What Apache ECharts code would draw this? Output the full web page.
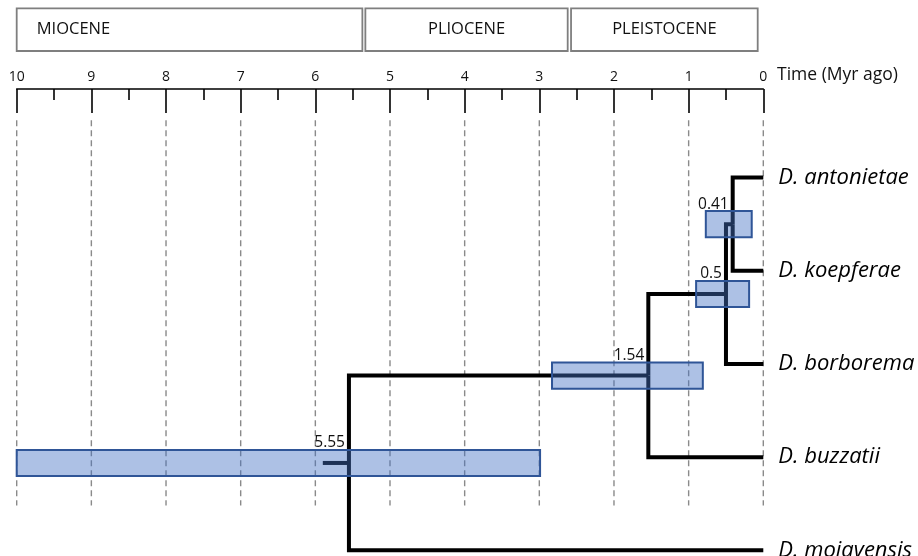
<!DOCTYPE html>
<html>
<head>
<meta charset="utf-8">
<script src="https://cdn.jsdelivr.net/npm/echarts@6/dist/echarts.min.js"></script>
<style>
html,body{margin:0;padding:0;background:#fff;}
#chart{width:918px;height:556px;}
</style>
</head>
<body>
<div id="chart"></div>
<script>
// ---------- data ----------
const xTicks = [10, 9, 8, 7, 6, 5, 4, 3, 2, 1, 0];
const epochNames = ['MIOCENE', 'PLIOCENE', 'PLEISTOCENE'];
const epochStart = [10, 5.33, 2.575];
const epochEnd = [5.37, 2.62, 0.075];
const taxa = ['D. antonietae', 'D. koepferae', 'D. borborema', 'D. buzzatii', 'D. mojavensis'];
const nodeLabels = ['0.41', '0.5', '1.54', '5.55'];
const nodeAges = [0.41, 0.5, 1.54, 5.55];
const hpdOld = [0.77, 0.90, 2.83, 10.0];
const hpdYoung = [0.155, 0.19, 0.81, 2.99];
const nodeChildren = [['L0', 'L1'], ['N0', 'L2'], ['N1', 'L3'], ['N2', 'L4']];
const rootStemAge = 5.90;
const axisTitle = 'Time (Myr ago)';

// ---------- layout / style constants ----------
const FONT = '"Open Sans", Lato, sans-serif';
const Y_MIN = -0.95, Y_MAX = 4.05;
const GRID_TOP_Y = -0.615, GRID_BOTTOM_Y = 3.52;
const BOX_HALF = 0.14;

// ---------- derived tree geometry ----------
const nodeY = [];
function childInfo(c) {
  const idx = +c.slice(1);
  if (c[0] === 'L') return { age: 0, y: idx };
  return { age: nodeAges[idx], y: nodeY[idx] };
}
nodeChildren.forEach((ch, i) => {
  const a = childInfo(ch[0]), b = childInfo(ch[1]);
  nodeY[i] = (a.y + b.y) / 2;
});
const segs = [];
nodeChildren.forEach((ch, i) => {
  ch.forEach(c => {
    const info = childInfo(c);
    segs.push([[nodeAges[i], nodeY[i]], [nodeAges[i], info.y], [info.age, info.y]]);
  });
});
const rootIdx = nodeAges.length - 1;
segs.push([[rootStemAge, nodeY[rootIdx]], [nodeAges[rootIdx], nodeY[rootIdx]]]);

const chart = echarts.init(document.getElementById('chart'), null, { renderer: 'canvas' });

const option = {
  animation: false,
  backgroundColor: '#fff',
  grid: { left: 16.7, right: 154.7, top: 89, bottom: 1, containLabel: false },
  xAxis: {
    type: 'value',
    position: 'top',
    inverse: true,
    min: 0, max: 10, interval: 1,
    axisLine: { show: true, onZero: false, lineStyle: { color: '#000', width: 1.6 } },
    axisTick: { show: true, inside: true, length: 24, lineStyle: { color: '#000', width: 1.6 } },
    minorTick: { show: true, splitNumber: 2, length: 11, lineStyle: { color: '#000', width: 1.6 } },
    axisLabel: { show: true, margin: 5, fontSize: 14, color: '#111', fontFamily: FONT,
      formatter: v => (xTicks.indexOf(v) >= 0 ? String(v) : '') },
    splitLine: { show: false }
  },
  yAxis: {
    type: 'value', inverse: true, min: Y_MIN, max: Y_MAX, show: false
  },
  graphic: [{
    type: 'text', left: 777, top: 66, z: 10,
    style: { text: axisTitle, fontSize: 17.5, fontFamily: FONT, fill: '#111' }
  }],
  series: [
    // dashed vertical grid lines
    {
      type: 'custom', z: 1, clip: false, silent: true,
      data: xTicks.map(t => [t, 0]),
      encode: { x: 0, y: 1 },
      renderItem: (params, api) => {
        const p1 = api.coord([api.value(0), GRID_TOP_Y]);
        const p2 = api.coord([api.value(0), GRID_BOTTOM_Y]);
        return { type: 'line', shape: { x1: p1[0], y1: p1[1], x2: p2[0], y2: p2[1] },
          style: { stroke: '#8a8a8a', lineWidth: 1.4, lineDash: [6, 4] } };
      }
    },
    // tree branches
    {
      type: 'custom', z: 2, clip: false, silent: true,
      data: segs.map(s => [s[0][0], s[0][1]]),
      encode: { x: 0, y: 1 },
      renderItem: (params, api) => {
        const pts = segs[params.dataIndex].map(p => api.coord(p));
        return { type: 'polyline', shape: { points: pts },
          style: { stroke: '#000', lineWidth: 4, fill: null, lineJoin: 'miter', lineCap: 'butt' } };
      }
    },
    // HPD boxes
    {
      type: 'custom', z: 3, clip: false, silent: true,
      data: nodeAges.map((a, i) => [a, nodeY[i]]),
      encode: { x: 0, y: 1 },
      renderItem: (params, api) => {
        const i = params.dataIndex;
        const p1 = api.coord([hpdOld[i], nodeY[i] - BOX_HALF]);
        const p2 = api.coord([hpdYoung[i], nodeY[i] + BOX_HALF]);
        return { type: 'rect', shape: { x: p1[0], y: p1[1], width: p2[0] - p1[0], height: p2[1] - p1[1] },
          style: { fill: 'rgba(68,114,196,0.44)', stroke: '#2F5597', lineWidth: 2 } };
      }
    },
    // node age labels
    {
      type: 'custom', z: 4, clip: false, silent: true,
      data: nodeAges.map((a, i) => [a, nodeY[i]]),
      encode: { x: 0, y: 1 },
      renderItem: (params, api) => {
        const i = params.dataIndex;
        const p = api.coord([nodeAges[i], nodeY[i] - BOX_HALF]);
        return { type: 'text', x: p[0] - 4, y: p[1] + 1,
          style: { text: nodeLabels[i], fontSize: 15.5, fontFamily: FONT, fill: '#111',
            align: 'right', verticalAlign: 'bottom' } };
      }
    },
    // taxa labels
    {
      type: 'custom', z: 4, clip: false, silent: true,
      data: taxa.map((t, i) => [0, i]),
      encode: { x: 0, y: 1 },
      renderItem: (params, api) => {
        const i = params.dataIndex;
        const p = api.coord([0, i]);
        return { type: 'text', x: p[0] + 15, y: p[1],
          style: { text: taxa[i], fontSize: 22, fontStyle: 'italic', fontFamily: FONT, fill: '#000',
            align: 'left', verticalAlign: 'middle' } };
      }
    },
    // epoch boxes
    {
      type: 'custom', z: 4, clip: false, silent: true,
      data: epochNames.map((n, i) => [epochStart[i], 0]),
      encode: { x: 0, y: 1 },
      renderItem: (params, api) => {
        const i = params.dataIndex;
        const x1 = api.coord([epochStart[i], 0])[0];
        const x2 = api.coord([epochEnd[i], 0])[0];
        const top = 8.3, h = 42.7;
        const left = i === 0;
        return { type: 'group', children: [
          { type: 'rect', shape: { x: x1, y: top, width: x2 - x1, height: h },
            style: { fill: '#fff', stroke: '#7f7f7f', lineWidth: 1.8 } },
          { type: 'text', x: left ? x1 + 20 : (x1 + x2) / 2, y: top + h / 2,
            style: { text: epochNames[i], fontSize: 16.5, fontFamily: FONT, fill: '#111',
              align: left ? 'left' : 'center', verticalAlign: 'middle' } }
        ] };
      }
    }
  ]
};
chart.setOption(option);
</script>
</body>
</html>
